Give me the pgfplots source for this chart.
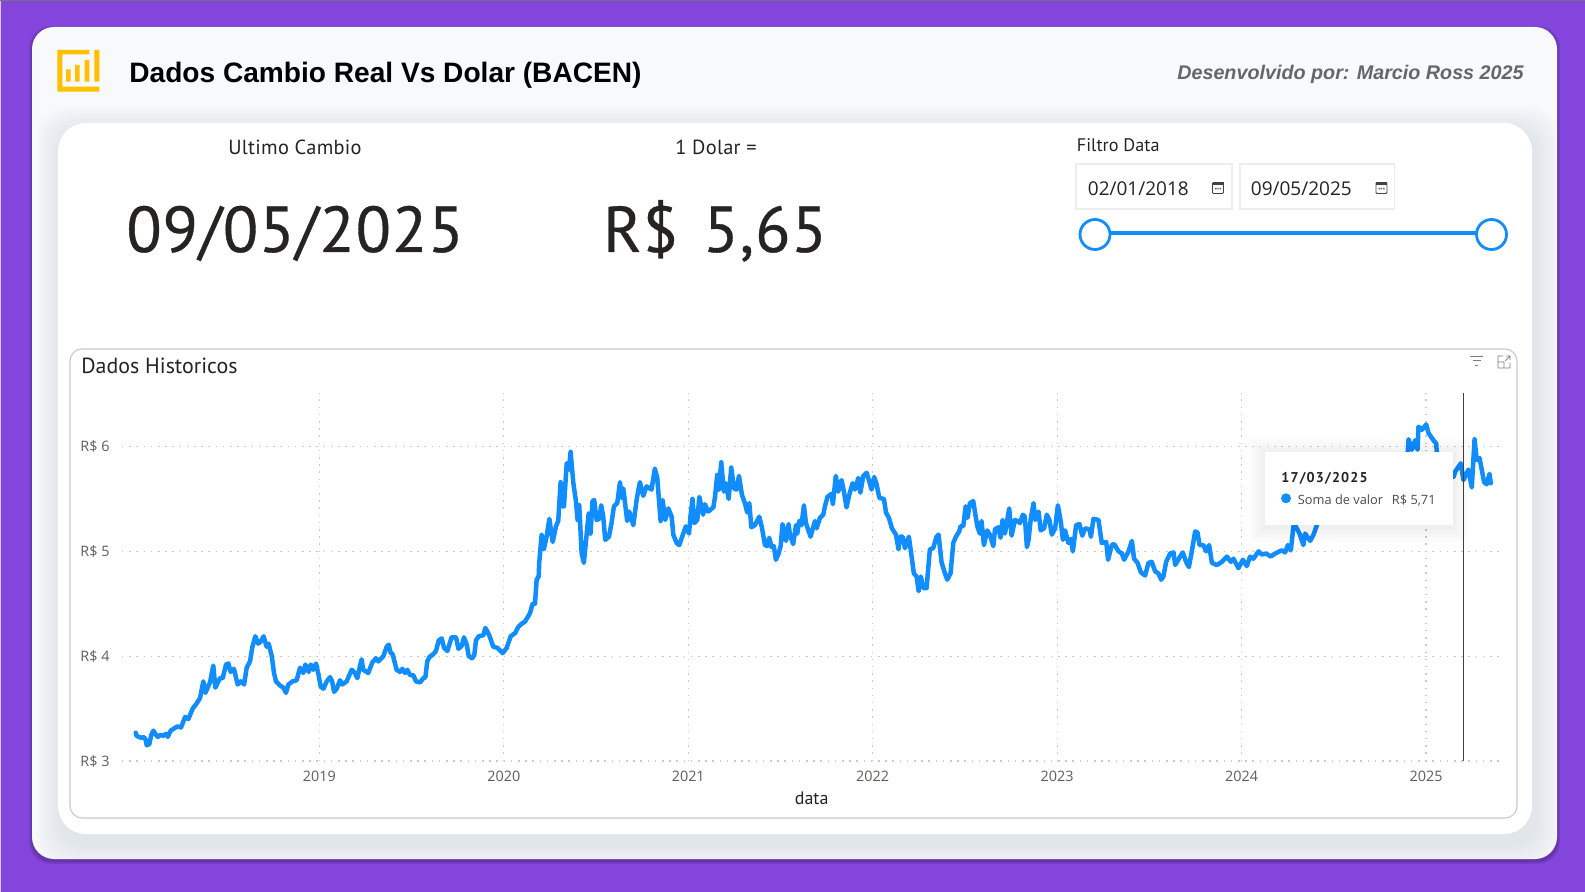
\documentclass[border=0pt]{standalone}
\usepackage{fontspec}
\usepackage{pgfplots}
\pgfplotsset{compat=1.18}
\setmainfont{Open Sans}
\newfontfamily\din{PT Sans}
\newfontfamily\dinlabel[LetterSpace=1.5]{PT Sans}
\newfontfamily\dinwide[LetterSpace=1.5,FakeBold=0.5]{PT Sans}
\newfontfamily\arial{Liberation Sans}
\newfontfamily\dintip[LetterSpace=8]{PT Sans}
\definecolor{roxo}{HTML}{8445DD}
\definecolor{fundo}{HTML}{F8F9FA}
\definecolor{azul}{HTML}{118DFF}
\definecolor{ouro}{HTML}{FFC000}
\definecolor{texto}{HTML}{252423}
\definecolor{eixo}{HTML}{605E5C}
\definecolor{grade}{HTML}{C8C8C8}
\definecolor{sombra}{HTML}{7A8CA3}
\newcommand{\fs}[1]{\fontsize{#1}{#1}\selectfont}
\begin{document}
\begin{tikzpicture}[x=0.5pt,y=-0.5pt]
\path[use as bounding box] (0,0) rectangle (1585,892);
\fill[roxo] (0,0) rectangle (1585,892);
\fill[black!55] (0,0) rectangle (1585,1.5);
\fill[white!70!roxo] (0,1.5) rectangle (1,892);
% card externo
\foreach \d in {3,2,1}
  \fill[black,opacity=.08,rounded corners=11pt] (32-\d,27-\d+2) rectangle (1557+\d,859+\d+2);
\fill[fundo,rounded corners=11pt] (32,27) rectangle (1557,859);
% card interno com sombra
\begin{scope}
\clip[rounded corners=11pt] (32,27) rectangle (1557,859);
\foreach \d in {24,21,18,15,12,9,6,3}
  \fill[sombra,opacity=.02,rounded corners=14pt] (58-\d+3,123-\d+9) rectangle (1532+\d+3,834+\d+9);
\end{scope}
\fill[white,rounded corners=14pt] (58,123) rectangle (1532,834);
% logo
\fill[ouro] (57.3,50) rectangle (62.3,91.7) (57.3,86.7) rectangle (99.3,91.7) (57.3,50) rectangle (89.3,54.3) (94.3,50) rectangle (99.3,81.7);
\fill[ouro] (66,69.3) rectangle (70.7,81.7) (75,65) rectangle (79.7,81.7) (84.7,60) rectangle (89.3,81.7);
% cabecalho
\node[anchor=base west,inner sep=0pt,font=\arial\bfseries\fs{14.05}] at (129,83) {Dados Cambio Real Vs Dolar (BACEN)};
\node[anchor=base east,inner sep=0pt,text=black!60,font=\arial\bfseries\itshape\fs{9.87}] at (1524,80) {Desenvolvido por: Marcio Ross 2025};
% cartoes
\node[anchor=base,inner sep=0pt,text=texto,font=\dinlabel\fs{10.2}] at (295,155) {Ultimo Cambio};
\node[anchor=base,inner sep=0pt,text=texto,font=\dinlabel\fs{10.2}] at (716,155) {1 Dolar =};
\node[anchor=base,inner sep=0pt,text=texto,font=\dinwide\fs{32.4}] at (295,252) {09/05/2025};
\node[anchor=base,inner sep=0pt,text=texto,font=\dinwide\fs{32.4}] at (715,252) {R\$\hspace{3.5pt} 5,65};
% filtro de data
\node[anchor=base west,inner sep=0pt,text=texto,font=\din\fs{9.1}] at (1076.5,152) {Filtro Data};
\draw[black!7,line width=.6pt] (1076,164) rectangle (1232,209) (1240,164) rectangle (1394.5,209);
\node[anchor=mid west,inner sep=0pt,text=texto,font=\fs{9.5}] at (1087.5,190) {02/01/2018};
\node[anchor=mid west,inner sep=0pt,text=texto,font=\fs{9.5}] at (1250.5,190) {09/05/2025};
\foreach \c in {1218,1381.5} {
  \draw[eixo!70!black,line width=.45pt,rounded corners=.5pt] (\c-5.5,182.5) rectangle (\c+5.5,193.5);
  \fill[eixo!70!black] (\c-5.5,182.5) rectangle (\c+5.5,185.5);
  \fill[eixo] (\c-3,188) rectangle (\c-1.5,189.5) (\c-.7,188) rectangle (\c+.7,189.5) (\c+1.5,188) rectangle (\c+3,189.5);
}
\draw[azul,line width=1.75pt] (1095,233) -- (1491,233);
\draw[azul,fill=white,line width=1.4pt] (1095,234.5) circle (15);
\draw[azul,fill=white,line width=1.4pt] (1491.5,234.5) circle (15);
% moldura do grafico
\draw[grade,line width=.55pt,rounded corners=6pt] (70,349) rectangle (1517,818);
\node[anchor=base west,inner sep=0pt,text=texto,font=\din\fs{10.95}] at (81,374) {Dados Historicos};
\draw[eixo!80,line width=.35pt] (1470,356) -- (1483,356) (1472.5,360.5) -- (1480.5,360.5) (1475,365) -- (1478,365);
\draw[eixo!80,line width=.35pt] (1503,356) -- (1498,356) -- (1498,368) -- (1510,368) -- (1510,363)
  (1498,362) -- (1504,362) -- (1504,368) (1505,361) -- (1510,356) (1506,356) -- (1510,356) -- (1510,360);
\begin{axis}[
  at={(61pt,-380.5pt)}, anchor=south west,
  scale only axis, width=689pt, height=184.15pt,
  xmin=2017.93, xmax=2025.401, ymin=3, ymax=6.514,
  xtick={2019,2020,2021,2022,2023,2024,2025},
  xticklabels={2019,2020,2021,2022,2023,2024,2025},
  ytick={3,4,5,6},
  yticklabels={R\$ 3,R\$ 4,R\$ 5,R\$ 6},
  axis line style={draw=none},
  major tick length=0pt,
  grid=major,
  grid style={grade,line width=.55pt,dash pattern=on .75pt off 2.85pt},
  tick label style={text=eixo,font=\fs{7.2},inner sep=0pt},
  xticklabel style={anchor=center,yshift=-7.5pt},
  yticklabel style={anchor=east,xshift=-6pt},
  xlabel={data},
  xlabel style={font=\din\fs{9},text=texto,inner sep=0pt,anchor=center,at={(axis description cs:0.5005,0)},yshift=-18.7pt},
]
\addplot[azul,line width=2.25pt,line join=round,line cap=round] coordinates {
(2018.004,3.27)(2018.009,3.24)(2018.022,3.23)(2018.037,3.22)(2018.046,3.23)(2018.057,3.21)(2018.064,3.15)(2018.078,3.16)
(2018.089,3.25)(2018.100,3.29)(2018.114,3.25)(2018.124,3.23)(2018.140,3.25)(2018.154,3.24)(2018.169,3.26)(2018.178,3.23)
(2018.194,3.29)(2018.212,3.31)(2018.230,3.33)(2018.250,3.32)(2018.272,3.42)(2018.290,3.40)(2018.313,3.50)(2018.331,3.54)
(2018.353,3.60)(2018.371,3.76)(2018.382,3.65)(2018.407,3.75)(2018.425,3.91)(2018.436,3.70)(2018.461,3.79)(2018.476,3.79)
(2018.494,3.92)(2018.507,3.93)(2018.519,3.85)(2018.537,3.88)(2018.557,3.73)(2018.574,3.76)(2018.592,3.73)(2018.606,3.89)
(2018.624,3.95)(2018.637,4.09)(2018.653,4.19)(2018.668,4.12)(2018.682,4.14)(2018.698,4.19)(2018.714,4.09)(2018.725,4.12)
(2018.742,4.00)(2018.754,3.84)(2018.765,3.76)(2018.787,3.72)(2018.805,3.70)(2018.819,3.65)(2018.832,3.73)(2018.855,3.76)
(2018.877,3.77)(2018.895,3.89)(2018.913,3.84)(2018.924,3.92)(2018.942,3.85)(2018.953,3.92)(2018.967,3.87)(2018.982,3.93)
(2018.996,3.82)(2019.007,3.71)(2019.022,3.69)(2019.040,3.76)(2019.058,3.80)(2019.069,3.76)(2019.080,3.66)(2019.094,3.69)
(2019.112,3.77)(2019.125,3.73)(2019.148,3.76)(2019.175,3.87)(2019.193,3.84)(2019.206,3.79)(2019.217,3.88)(2019.229,3.97)
(2019.238,3.87)(2019.265,3.84)(2019.287,3.94)(2019.307,3.98)(2019.320,3.95)(2019.347,4.00)(2019.365,4.09)(2019.376,4.11)
(2019.387,4.03)(2019.397,4.02)(2019.419,3.87)(2019.437,3.85)(2019.450,3.88)(2019.464,3.84)(2019.477,3.87)(2019.491,3.82)
(2019.509,3.82)(2019.524,3.76)(2019.546,3.75)(2019.564,3.79)(2019.575,3.80)(2019.585,3.95)(2019.596,3.99)(2019.618,4.02)
(2019.632,4.05)(2019.647,4.15)(2019.663,4.17)(2019.676,4.08)(2019.694,4.05)(2019.717,4.18)(2019.741,4.18)(2019.754,4.07)
(2019.772,4.10)(2019.784,4.18)(2019.799,4.11)(2019.810,4.00)(2019.828,3.98)(2019.840,4.01)(2019.849,4.15)(2019.864,4.19)
(2019.889,4.20)(2019.900,4.27)(2019.921,4.20)(2019.943,4.09)(2019.965,4.08)(2019.994,4.03)(2020.016,4.08)(2020.037,4.19)
(2020.061,4.22)(2020.079,4.28)(2020.097,4.31)(2020.115,4.33)(2020.142,4.41)(2020.156,4.50)(2020.169,4.50)(2020.178,4.73)
(2020.189,4.76)(2020.192,4.89)(2020.205,5.16)(2020.217,5.02)(2020.232,5.14)(2020.247,5.31)(2020.265,5.09)(2020.283,5.24)
(2020.295,5.29)(2020.308,5.66)(2020.319,5.43)(2020.326,5.43)(2020.341,5.84)(2020.353,5.78)(2020.362,5.95)(2020.377,5.65)
(2020.391,5.48)(2020.400,5.30)(2020.409,5.44)(2020.422,4.98)(2020.434,4.89)(2020.449,5.16)(2020.460,5.36)(2020.470,5.17)
(2020.481,5.48)(2020.490,5.49)(2020.503,5.30)(2020.518,5.31)(2020.528,5.44)(2020.539,5.33)(2020.550,5.11)(2020.570,5.14)
(2020.584,5.27)(2020.597,5.43)(2020.615,5.46)(2020.630,5.66)(2020.639,5.51)(2020.648,5.60)(2020.669,5.29)(2020.680,5.38)
(2020.702,5.25)(2020.720,5.49)(2020.729,5.58)(2020.738,5.66)(2020.756,5.53)(2020.774,5.62)(2020.801,5.59)(2020.819,5.79)
(2020.832,5.70)(2020.850,5.29)(2020.861,5.49)(2020.875,5.30)(2020.892,5.41)(2020.910,5.33)(2020.919,5.16)(2020.937,5.08)
(2020.951,5.06)(2020.973,5.17)(2020.987,5.24)(2021.004,5.17)(2021.013,5.35)(2021.023,5.50)(2021.033,5.27)(2021.049,5.30)
(2021.060,5.52)(2021.081,5.35)(2021.090,5.45)(2021.108,5.38)(2021.136,5.42)(2021.145,5.52)(2021.157,5.73)(2021.166,5.59)
(2021.179,5.85)(2021.193,5.57)(2021.204,5.65)(2021.219,5.50)(2021.233,5.80)(2021.248,5.60)(2021.262,5.59)(2021.275,5.72)
(2021.291,5.54)(2021.307,5.46)(2021.320,5.37)(2021.331,5.46)(2021.342,5.23)(2021.361,5.25)(2021.385,5.33)(2021.398,5.24)
(2021.416,5.06)(2021.428,5.05)(2021.439,5.13)(2021.452,5.04)(2021.464,5.05)(2021.475,4.92)(2021.488,4.97)(2021.501,5.05)
(2021.511,5.26)(2021.530,5.10)(2021.544,5.26)(2021.551,5.16)(2021.569,5.07)(2021.584,5.25)(2021.591,5.17)(2021.602,5.29)
(2021.614,5.25)(2021.627,5.44)(2021.638,5.27)(2021.663,5.14)(2021.687,5.29)(2021.696,5.22)(2021.714,5.32)(2021.732,5.35)
(2021.741,5.43)(2021.755,5.52)(2021.777,5.55)(2021.784,5.45)(2021.800,5.72)(2021.813,5.57)(2021.831,5.68)(2021.844,5.57)
(2021.858,5.42)(2021.873,5.54)(2021.891,5.65)(2021.904,5.59)(2021.922,5.70)(2021.933,5.56)(2021.949,5.72)(2021.967,5.75)
(2021.981,5.67)(2021.994,5.59)(2022.008,5.71)(2022.021,5.64)(2022.036,5.51)(2022.061,5.50)(2022.072,5.37)(2022.088,5.32)
(2022.104,5.22)(2022.126,5.16)(2022.140,5.02)(2022.148,5.14)(2022.162,5.14)(2022.175,5.03)(2022.196,5.14)(2022.211,4.95)
(2022.223,4.79)(2022.238,4.76)(2022.249,4.62)(2022.261,4.76)(2022.274,4.65)(2022.292,4.65)(2022.310,5.02)(2022.328,5.03)
(2022.346,5.14)(2022.357,5.16)(2022.373,4.90)(2022.388,4.81)(2022.404,4.73)(2022.422,4.79)(2022.437,5.08)(2022.451,5.14)
(2022.469,5.19)(2022.476,5.24)(2022.491,5.24)(2022.504,5.43)(2022.514,5.32)(2022.527,5.46)(2022.545,5.48)(2022.567,5.24)
(2022.581,5.17)(2022.590,5.29)(2022.603,5.06)(2022.621,5.20)(2022.635,5.16)(2022.654,5.05)(2022.663,5.21)(2022.681,5.23)
(2022.693,5.13)(2022.704,5.30)(2022.717,5.17)(2022.740,5.41)(2022.753,5.15)(2022.771,5.30)(2022.784,5.29)(2022.799,5.27)
(2022.814,5.35)(2022.825,5.33)(2022.836,5.04)(2022.845,5.11)(2022.857,5.31)(2022.872,5.46)(2022.881,5.30)(2022.899,5.38)
(2022.911,5.20)(2022.929,5.22)(2022.944,5.35)(2022.958,5.30)(2022.971,5.16)(2022.989,5.22)(2023.004,5.44)(2023.020,5.28)
(2023.031,5.11)(2023.043,5.20)(2023.061,5.08)(2023.074,5.12)(2023.085,5.00)(2023.103,5.25)(2023.121,5.26)(2023.136,5.15)
(2023.152,5.22)(2023.175,5.21)(2023.183,5.14)(2023.197,5.31)(2023.224,5.30)(2023.242,5.08)(2023.266,5.09)(2023.276,4.92)
(2023.296,5.06)(2023.309,5.07)(2023.333,5.00)(2023.351,4.98)(2023.363,4.92)(2023.387,5.00)(2023.405,5.10)(2023.417,4.93)
(2023.436,4.89)(2023.454,4.80)(2023.477,4.77)(2023.495,4.89)(2023.513,4.90)(2023.531,4.81)(2023.549,4.79)(2023.564,4.73)
(2023.576,4.76)(2023.591,4.90)(2023.613,4.98)(2023.631,4.99)(2023.640,4.87)(2023.667,4.95)(2023.681,4.99)(2023.699,4.90)
(2023.714,4.85)(2023.730,5.00)(2023.748,5.19)(2023.761,5.18)(2023.772,5.06)(2023.793,5.06)(2023.808,5.00)(2023.824,5.06)
(2023.839,4.89)(2023.866,4.87)(2023.893,4.90)(2023.920,4.95)(2023.942,4.90)(2023.956,4.93)(2023.983,4.84)(2024.007,4.92)
(2024.028,4.86)(2024.046,4.95)(2024.064,4.93)(2024.092,5.00)(2024.110,4.97)(2024.133,4.98)(2024.158,4.95)(2024.173,4.97)
(2024.205,5.00)(2024.218,5.01)(2024.236,4.99)(2024.251,5.06)(2024.267,5.01)(2024.281,5.24)(2024.290,5.25)(2024.314,5.17)
(2024.335,5.06)(2024.344,5.17)(2024.372,5.10)(2024.390,5.16)(2024.408,5.25)(2024.450,5.45)(2024.500,5.45)(2024.550,5.60)
(2024.600,5.55)(2024.650,5.65)(2024.700,5.55)(2024.750,5.50)(2024.800,5.65)(2024.850,5.80)(2024.880,5.80)(2024.901,5.95)
(2024.905,6.07)(2024.923,5.97)(2024.941,6.06)(2024.954,5.97)(2024.959,6.19)(2024.977,6.16)(2025.001,6.21)(2025.013,6.13)
(2025.040,6.06)(2025.055,6.03)(2025.058,5.95)(2025.090,5.85)(2025.120,5.75)(2025.149,5.71)(2025.158,5.76)(2025.188,5.84)
(2025.203,5.68)(2025.230,5.78)(2025.248,5.61)(2025.263,6.07)(2025.275,5.87)(2025.290,5.89)(2025.315,5.66)(2025.329,5.64)
(2025.344,5.74)(2025.351,5.65)
};
\addplot[black!75,line width=.55pt] coordinates {(2025.205,3) (2025.205,6.514)};
\end{axis}
% dica
\foreach \d in {16,14,12,10,8,6,4,2}
  \fill[black,opacity=.007] (1265-\d,452-\d+2) rectangle (1453+\d,525+\d+2);
\fill[white] (1265,452) rectangle (1453,525);
\node[anchor=base west,inner sep=0pt,text=texto,font=\dintip\bfseries\fs{7.1}] at (1281,482.5) {17/03/2025};
\fill[azul] (1286,498.3) circle (5);
\node[anchor=mid west,inner sep=0pt,text=eixo!80!black,font=\fs{6.4}] at (1297.5,499) {Soma de valor};
\node[anchor=mid east,inner sep=0pt,text=eixo!80!black,font=\fs{6.4}] at (1436,499) {R\$ 5,71};
\end{tikzpicture}
\end{document}
